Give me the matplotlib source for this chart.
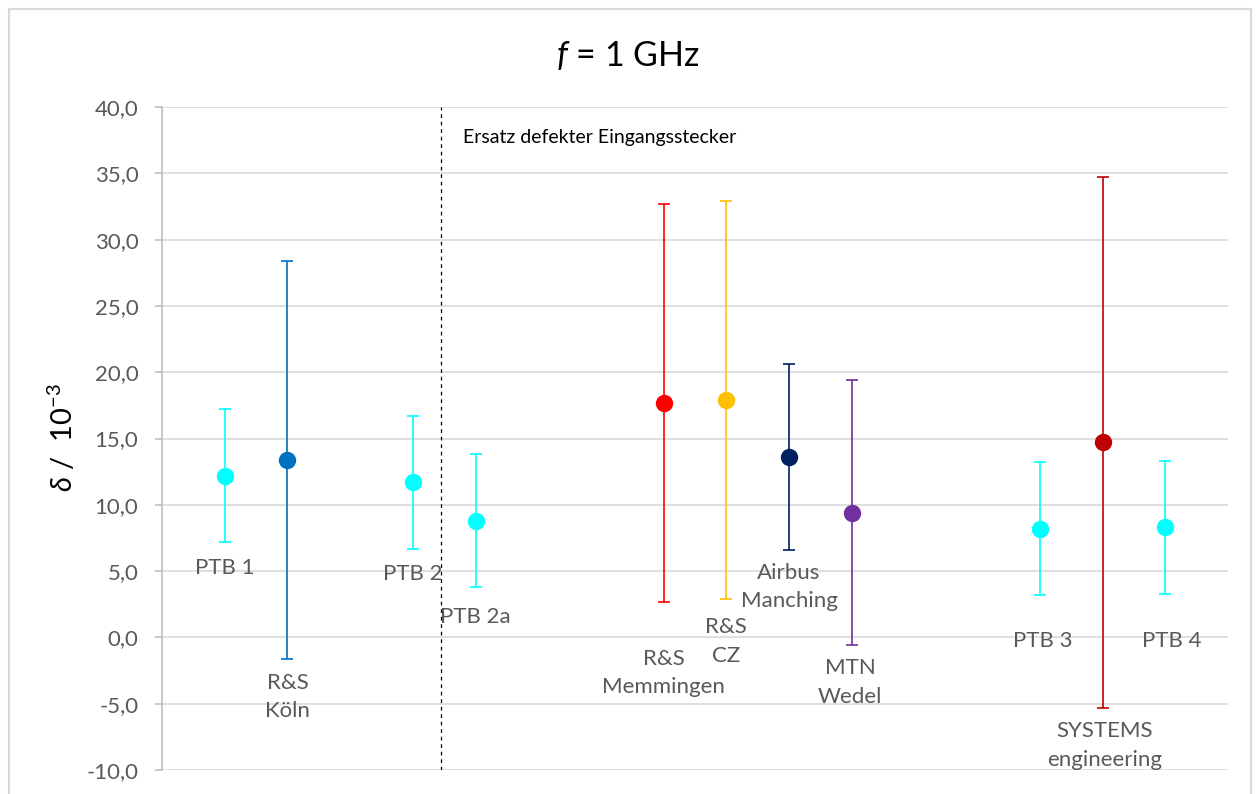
import matplotlib
matplotlib.use("Agg")
import matplotlib.pyplot as plt
from matplotlib.patches import Rectangle
from matplotlib.ticker import FuncFormatter, MultipleLocator

plt.rcParams["font.family"] = ["Lato", "DejaVu Sans"]
plt.rcParams["mathtext.fontset"] = "custom"
plt.rcParams["mathtext.rm"] = "Lato"
plt.rcParams["mathtext.it"] = "Lato:italic"

# data
labels = ["PTB 1", "R&S\nKöln", "PTB 2", "PTB 2a", "R&S\nMemmingen", "R&S\nCZ",
          "Airbus\nManching", "MTN\nWedel", "PTB 3", "SYSTEMS\nengineering", "PTB 4"]
slots = [1, 2, 4, 5, 8, 9, 10, 11, 14, 15, 16]
delta = [12.2, 13.4, 11.7, 8.8, 17.7, 17.9, 13.6, 9.4, 8.2, 14.7, 8.3]
unc = [5.0, 15.0, 5.0, 5.0, 15.0, 15.0, 7.0, 10.0, 5.0, 20.0, 5.0]
colors = ["#00FFFF", "#0070C0", "#00FFFF", "#00FFFF", "#FF0000", "#FFC000",
          "#002060", "#7030A0", "#00FFFF", "#C00000", "#00FFFF"]

# label placement (data units)
label_y = [5.2, -4.5, 4.8, 1.55, -2.7, -0.3, 3.8, -3.4, -0.3, -8.15, -0.3]
label_dx = [0, 0, 0, 0, 0, 0, 0, -0.03, 0.05, 0.03, 0.1]
line_step = 20.5  # points between label lines

fig = plt.figure(figsize=(12.57, 7.94), dpi=100, facecolor="white")
ax = fig.add_axes([162 / 1257, 1 - 770 / 794, (1228 - 162) / 1257, (770 - 107) / 794])

for x, y, e, c in zip(slots, delta, unc, colors):
    ax.errorbar(x, y, yerr=e, fmt="o", color=c, ecolor=c, markersize=11.5,
                elinewidth=1.2, capsize=4.5, capthick=1.2, zorder=3)

for x, y, dx, lab in zip(slots, label_y, label_dx, labels):
    lines = lab.split("\n")
    n = len(lines)
    for i, line in enumerate(lines):
        off = ((n - 1) / 2 - i) * line_step
        ax.annotate(line, xy=(x + dx, y), xytext=(0, off), textcoords="offset points",
                    ha="center", va="center", fontsize=16, color="#595959", zorder=4)

ax.axvline(4.45, color="black", linestyle=(0, (3, 3)), linewidth=0.9, zorder=2)
ax.text(4.8, 37.7, "Ersatz defekter Eingangsstecker", ha="left", va="center",
        fontsize=14, color="black")

ax.set_xlim(0, 17)
ax.set_ylim(-10, 40)
ax.yaxis.set_major_locator(MultipleLocator(5))
ax.yaxis.set_major_formatter(FuncFormatter(lambda v, p: f"{v:.1f}".replace(".", ",")))
ax.set_xticks([])
ax.grid(axis="y", color="#D9D9D9", linewidth=1.2, zorder=0)
ax.set_axisbelow(True)
for s in ["top", "right", "bottom"]:
    ax.spines[s].set_visible(False)
ax.spines["left"].set_color("#BFBFBF")
ax.spines["left"].set_linewidth(1.2)
ax.tick_params(axis="y", colors="#595959", labelsize=16, length=5, width=1.2,
               color="#BFBFBF", pad=12)
ax.tick_params(axis="y", labelcolor="#595959")

fig.text(628 / 1257, 1 - 55 / 794, r"$f$ = 1 GHz", ha="center", va="center",
         fontsize=24.5, color="black")
fig.text(62 / 1257, 1 - 438 / 794, r"$\mathit{δ}$ /  10$^{-3}$", ha="center", va="center",
         rotation=90, fontsize=21, color="black")

fig.add_artist(Rectangle((9 / 1257, -0.05), (1251 - 9) / 1257, 1.05 - 9 / 794,
                         transform=fig.transFigure, fill=False, edgecolor="#D9D9D9",
                         linewidth=1.5))

fig.savefig("out.png", dpi=100, facecolor="white")
